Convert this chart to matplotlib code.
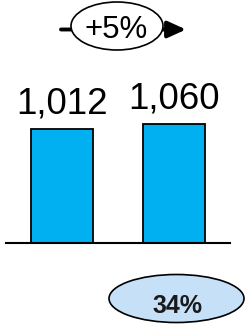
import matplotlib
matplotlib.use("Agg")
import matplotlib.pyplot as plt
from matplotlib.patches import Ellipse

categories = ["A", "B"]
values = [1012, 1060]
labels = ["1,012", "1,060"]
growth_label = "+5%"
share_label = "34%"

plt.rcParams['font.family'] = ['Liberation Sans', 'DejaVu Sans']

W, H = 246, 326
fig = plt.figure(figsize=(W / 100, H / 100), dpi=100)
ax = fig.add_axes([0, 0, 1, 1])
ax.axis('off')
px_per_unit = 114 / 1012
ax.set_xlim(-62 / 112, (W - 62) / 112)
ax.set_ylim(-83 / px_per_unit, (H - 83) / px_per_unit)

xs = list(range(len(categories)))
ax.bar(xs, values, width=0.554, color='#00B0F0', edgecolor='black', linewidth=1.3, zorder=2)
ax.plot([-0.5, 1.5], [0, 0], color='black', linewidth=1.5, zorder=3)
for x, v, lab in zip(xs, values, labels):
    ax.annotate(lab, (x, v), xytext=(0, 11), textcoords='offset points',
                ha='center', va='baseline', fontsize=26.5, color='black')

# decoration overlay in pixel coordinates
ov = fig.add_axes([0, 0, 1, 1])
ov.set_xlim(0, W)
ov.set_ylim(H, 0)
ov.axis('off')
ov.patch.set_alpha(0)

ov.annotate('', xy=(186, 29.5), xytext=(61, 29.5),
            arrowprops=dict(arrowstyle='-|>,head_length=1.1,head_width=0.5', color='black', lw=2.8,
                            shrinkA=0, shrinkB=0))
ov.add_patch(Ellipse((117, 26), 92, 48, facecolor='white', edgecolor='black', lw=1.2, zorder=3))
ov.text(116.5, 37.5, growth_label, ha='center', va='baseline', fontsize=22.5, color='black', zorder=4)

ov.add_patch(Ellipse((176.5, 298.5), 135, 48, facecolor='#C6E0F7', edgecolor='black', lw=1.2, zorder=3))
ov.text(177, 313, share_label, ha='center', va='baseline', fontsize=18, fontweight='bold',
        color='#1a1a1a', zorder=4)

fig.savefig('out.png', dpi=100)
